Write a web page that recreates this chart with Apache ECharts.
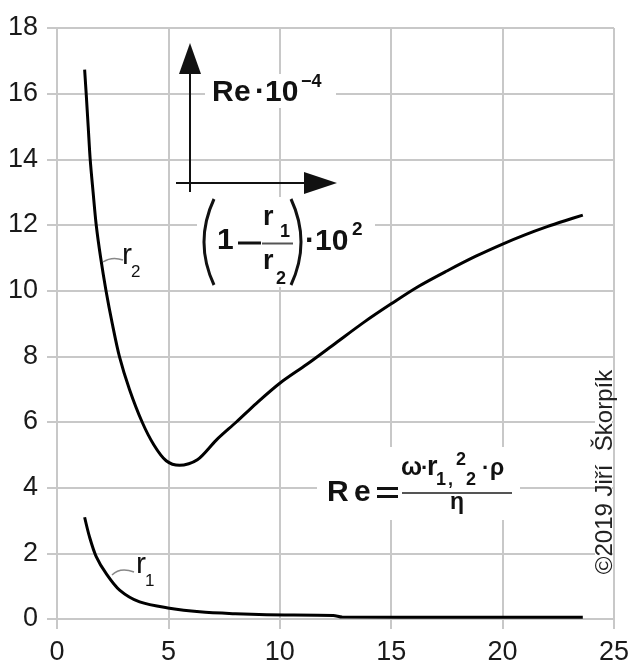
<!DOCTYPE html>
<html lang="cs">
<head>
<meta charset="UTF-8">
<title>Re vs (1 - r1/r2)</title>
<style>
  html, body { margin: 0; padding: 0; background: #fff; }
  #main { width: 632px; height: 666px; }
</style>
</head>
<body>
<div id="main"></div>
<script src="https://cdn.jsdelivr.net/npm/echarts@6/dist/echarts.min.js"></script>
<script>
// x = (1 - r1/r2)*10^2, y = Re*10^-4
var xTicks = [0, 5, 10, 15, 20, 25];
var yTicks = [0, 2, 4, 6, 8, 10, 12, 14, 16, 18];

// curve r2 (outer radius)
var r2Points = [
  [1.24, 16.73], [1.31, 16.0], [1.40, 15.0], [1.49, 14.0], [1.62, 13.0],
  [1.76, 12.0], [1.96, 11.0], [2.2, 10.0], [2.48, 9.0], [2.8, 8.0],
  [3.25, 7.0], [3.82, 6.0], [4.35, 5.3], [4.9, 4.82], [5.5, 4.68],
  [6.3, 4.85], [7.15, 5.45], [8.05, 6.0], [8.95, 6.57], [10.0, 7.18],
  [11.2, 7.75], [12.5, 8.4], [13.8, 9.05], [15.0, 9.6], [16.2, 10.12],
  [17.5, 10.6], [18.8, 11.05], [20.0, 11.42], [21.0, 11.7], [22.0, 11.95],
  [22.8, 12.13], [23.6, 12.3]
];
// curve r1 (inner radius)
var r1Points = [
  [1.24, 3.1], [1.46, 2.5], [1.76, 1.9], [2.21, 1.38], [2.81, 0.88],
  [3.71, 0.52], [5.05, 0.33], [6.4, 0.22], [8.0, 0.16], [9.4, 0.13],
  [12.4, 0.11], [12.8, 0.06], [18.0, 0.05], [23.6, 0.05]
];

var FONT = '"Liberation Sans", Arial, sans-serif';
var INK = '#111';
var GRIDC = '#c8c8c8';

// text placed by its baseline
function tx(str, x, base, size, bold, extra) {
  var el = {
    type: 'text', x: x, y: base - 0.35 * size, z: 101,
    style: {
      text: str, fill: INK,
      fontSize: size, fontWeight: bold ? 'bold' : 'normal', fontFamily: FONT,
      align: 'left', verticalAlign: 'middle',
      textAlign: 'left', textVerticalAlign: 'middle'
    }
  };
  if (extra) Object.assign(el.style, extra);
  return el;
}
function box(x, y, w, h) {
  return { type: 'rect', z: 100, shape: { x: x, y: y, width: w, height: h }, style: { fill: '#fff' } };
}
function seg(x1, y1, x2, y2, w, c) {
  return { type: 'line', z: 101, shape: { x1: x1, y1: y1, x2: x2, y2: y2 }, style: { stroke: c || INK, lineWidth: w } };
}
function curve(x1, y1, cx, cy, x2, y2, w, c) {
  return { type: 'bezierCurve', z: 101, shape: { x1: x1, y1: y1, x2: x2, y2: y2, cpx1: cx, cpy1: cy },
    style: { stroke: c || INK, lineWidth: w, fill: null } };
}
function tri(pts) {
  return { type: 'polygon', z: 101, shape: { points: pts }, style: { fill: INK } };
}

var annot = [
  // axes sketch
  box(205, 74, 131, 34),
  seg(190, 192, 190, 68, 2),
  tri([[190, 43], [179, 74], [201, 74]]),
  seg(176, 183, 310, 183, 2),
  tri([[337, 183], [304, 172], [304, 194]]),
  tx('R', 212, 103.3, 30, true),
  tx('e', 234, 103.3, 30, true),
  tx('·10', 255, 103.3, 30, true),
  tx('−4', 301, 88.5, 18, true),

  // (1 - r1/r2)·10^2
  box(197, 197, 178, 90),
  curve(214, 199, 194, 242, 214, 285, 3),
  curve(291, 199, 311, 242, 291, 285, 3),
  tx('1', 217, 251.7, 30, true),
  seg(238, 243, 261, 243, 3),
  tx('r', 263, 227, 27, true),
  tx('1', 280, 238, 18, true),
  seg(262, 243.5, 293, 243.5, 2, '#555'),
  tx('r', 263, 271, 27, true),
  tx('2', 276, 285, 18, true),
  tx('·10', 305, 252, 30, true),
  tx('2', 352, 236, 19, true),

  // Re = omega r^2 rho / eta
  box(317, 447, 203, 73),
  tx('R', 327, 503, 30, true),
  tx('e', 354, 503, 30, true),
  seg(377, 488.5, 398, 488.5, 3),
  seg(377, 496.5, 398, 496.5, 3),
  seg(402, 493, 512, 493, 2, '#555'),
  tx('ω', 401, 477, 25, true),
  tx('·', 421, 477, 22, true),
  tx('r', 427, 477, 27, true),
  tx('1', 436, 486.7, 18, true),
  tx(',', 448, 486.7, 18, true),
  tx('2', 466, 486.7, 18, true),
  tx('2', 456, 466.7, 18, true),
  tx('·', 482, 477, 22, true),
  tx('ρ', 490, 477, 23, true),
  tx('η', 450, 511, 23, true),

  // copyright
  box(595, 358, 17, 230),
  {
    type: 'text', x: 605, y: 472, rotation: Math.PI / 2, z: 101,
    style: {
      text: '©2019 Jiří  Škorpík', fill: '#222', fontSize: 24, fontFamily: FONT,
      align: 'center', verticalAlign: 'middle', textAlign: 'center', textVerticalAlign: 'middle'
    }
  },

  // curve labels
  curve(103, 262, 112, 256, 123, 260, 1.5, '#888'),
  tx('r', 122, 266.7, 30, false),
  tx('2', 131, 278, 17, false),
  curve(112, 575, 120, 567, 134, 572, 1.5, '#888'),
  tx('r', 136, 575, 30, false),
  tx('1', 145, 587, 17, false)
];

var chart = echarts.init(document.getElementById('main'));
var option = {
  backgroundColor: '#fff',
  animation: false,
  grid: { left: 57, right: 18, top: 28, bottom: 47, containLabel: false, outerBoundsMode: 'none' },
  xAxis: {
    type: 'value', min: xTicks[0], max: xTicks[xTicks.length - 1], interval: 5,
    axisLine: { show: true, lineStyle: { color: GRIDC, width: 2 } },
    axisTick: { show: true, length: 10, lineStyle: { color: GRIDC, width: 2 } },
    splitLine: { show: true, lineStyle: { color: GRIDC, width: 2 } },
    axisLabel: { color: '#1a1a1a', fontSize: 27, fontFamily: FONT, margin: 20 }
  },
  yAxis: {
    type: 'value', min: yTicks[0], max: yTicks[yTicks.length - 1], interval: 2,
    axisLine: { show: true, lineStyle: { color: GRIDC, width: 2 } },
    axisTick: { show: true, length: 10, lineStyle: { color: GRIDC, width: 2 } },
    splitLine: { show: true, lineStyle: { color: GRIDC, width: 2 } },
    axisLabel: { color: '#1a1a1a', fontSize: 27, fontFamily: FONT, margin: 19 }
  },
  series: [
    {
      name: 'r2', type: 'line', data: r2Points, smooth: 0.3, showSymbol: false,
      lineStyle: { color: '#000', width: 3 }, z: 5
    },
    {
      name: 'r1', type: 'line', data: r1Points, smooth: 0.3, showSymbol: false,
      lineStyle: { color: '#000', width: 3 }, z: 5
    }
  ],
  graphic: { elements: annot }
};
chart.setOption(option);
</script>
</body>
</html>
